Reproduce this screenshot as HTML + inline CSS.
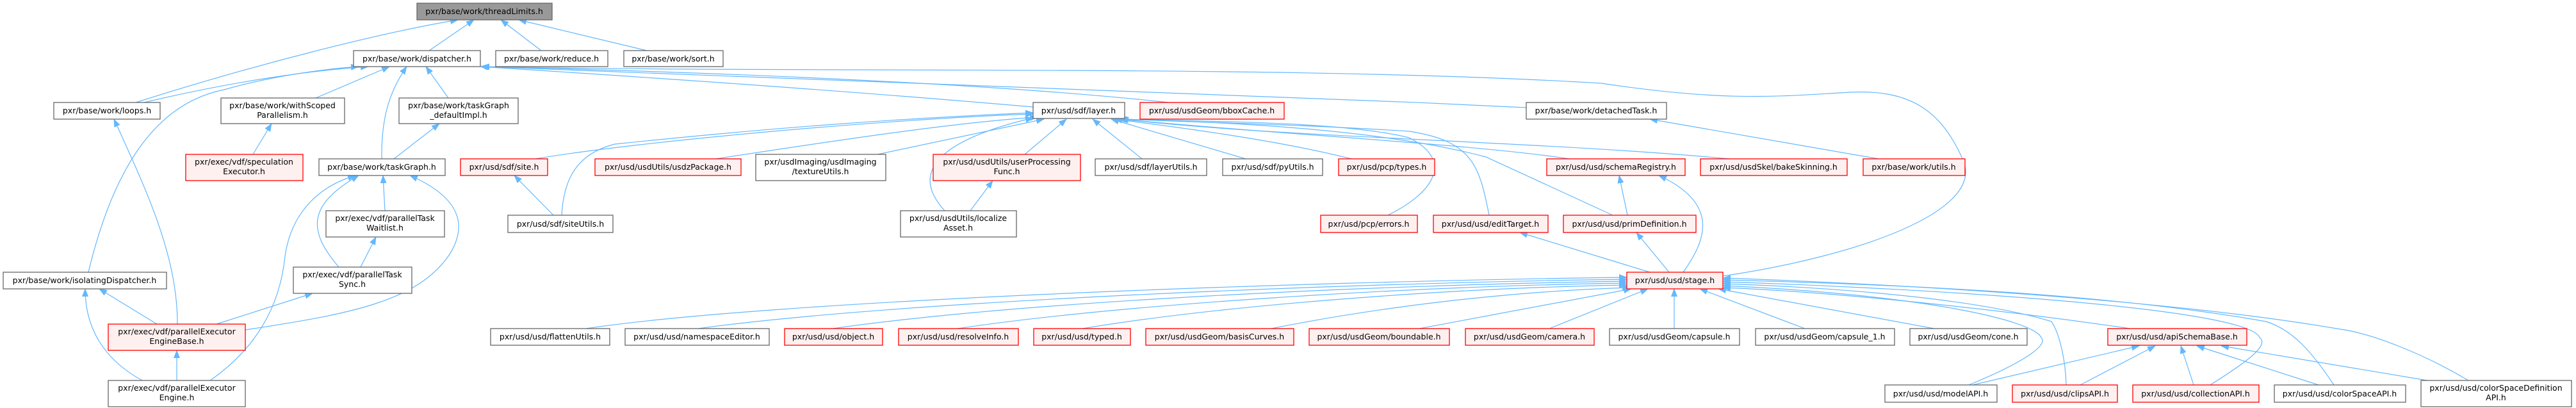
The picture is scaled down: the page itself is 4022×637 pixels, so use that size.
<!DOCTYPE html>
<html><head><meta charset="utf-8"><style>
html,body{margin:0;padding:0;background:#fff;}
svg{display:block;}
text{font-family:"DejaVu Sans","Liberation Sans",sans-serif;font-size:12.5px;fill:#000;text-anchor:middle;}
.n rect{fill:#fff;stroke:#666;stroke-width:1.3;}
.r rect{fill:#fff0f0;stroke:#f00;stroke-width:1.3;}
.g rect{fill:#999;stroke:#666;stroke-width:1.3;}
path.e{fill:none;stroke:#63b8ff;stroke-width:1.2;marker-end:url(#a);}
</style></head><body>
<svg width="4022" height="637" viewBox="0 0 4022 637" xmlns="http://www.w3.org/2000/svg">
<defs><marker id="a" markerWidth="13" markerHeight="10" refX="12" refY="5" orient="auto" markerUnits="userSpaceOnUse"><path d="M0,0 L13,5 L0,10 z" fill="#63b8ff"/></marker></defs>

<!-- edges -->
<path class="e" d="M670,79 L740,31"/>
<path class="e" d="M845,79 L782,31"/>
<path class="e" d="M1010,79 L810,31"/>
<path class="e" d="M212,160 C400,100 600,50 715,31"/>
<path class="e" d="M225,160 C350,130 480,110 575,104"/>
<path class="e" d="M138,425 C180,250 250,160 350,140 C420,120 500,108 560,104"/>
<path class="e" d="M493,153 L608,104"/>
<path class="e" d="M596,248 C595,180 610,140 635,104"/>
<path class="e" d="M700,153 L665,104"/>
<path class="e" d="M1613,167 C1300,140 1000,120 750,104"/>
<path class="e" d="M1825,160 C1500,125 1000,110 752,104"/>
<path class="e" d="M2383,168 C1800,140 1200,120 752,104"/>
<path class="e" d="M2690,431 C2900,400 3100,330 3065,250 C3030,170 2980,140 2890,144 C2780,150 2700,160 2500,130 C2000,100 1300,115 752,104"/>
<path class="e" d="M395,241 L424,193"/>
<path class="e" d="M615,248 L686,193"/>
<path class="e" d="M601,329 L598,274"/>
<path class="e" d="M529,417 C480,360 480,320 560,274"/>
<path class="e" d="M383,515 C550,490 650,470 700,400 C740,340 700,300 640,274"/>
<path class="e" d="M328,594 C420,530 440,450 445,400 C455,330 500,290 555,274"/>
<path class="e" d="M563,417 L587,370"/>
<path class="e" d="M338,506 L488,458"/>
<path class="e" d="M277,506 C277,400 230,300 178,186"/>
<path class="e" d="M245,506 L155,451"/>
<path class="e" d="M222,594 C160,560 133,510 133,451"/>
<path class="e" d="M276,594 L276,547"/>
<path class="e" d="M836,248 C1000,220 1400,185 1613,178"/>
<path class="e" d="M877,336 C880,280 900,240 960,225 C1200,200 1400,185 1613,176"/>
<path class="e" d="M864,336 L803,274"/>
<path class="e" d="M1118,248 C1300,220 1500,190 1620,183"/>
<path class="e" d="M1370,241 L1630,186"/>
<path class="e" d="M1600,241 L1665,186"/>
<path class="e" d="M1475,329 C1430,280 1440,225 1613,184"/>
<path class="e" d="M1515,329 L1550,282"/>
<path class="e" d="M1783,248 L1706,186"/>
<path class="e" d="M1945,248 L1735,186"/>
<path class="e" d="M2110,248 C2000,220 1850,200 1740,186"/>
<path class="e" d="M2167,336 C2240,300 2270,250 2200,215 C2100,190 1900,190 1745,186"/>
<path class="e" d="M2325,336 C2310,260 2300,220 2200,205 C2050,195 1850,190 1745,186"/>
<path class="e" d="M2518,336 L2320,245 C2150,200 1900,190 1748,186"/>
<path class="e" d="M2450,248 C2300,225 2000,210 1748,186"/>
<path class="e" d="M2700,248 C2400,220 2000,215 1750,186"/>
<path class="e" d="M2933,248 L2576,186"/>
<path class="e" d="M2576,425 L2373,363"/>
<path class="e" d="M2606,425 L2555,363"/>
<path class="e" d="M2628,425 C2660,380 2690,320 2590,274"/>
<path class="e" d="M2541,336 L2528,274"/>
<!-- bottom row into stage (left side) -->
<path class="e" d="M915,513 C1200,470 2000,440 2540,433"/>
<path class="e" d="M1090,513 C1400,470 2100,442 2540,436"/>
<path class="e" d="M1300,513 C1600,470 2150,445 2540,439"/>
<path class="e" d="M1495,513 C1750,475 2200,447 2540,442"/>
<path class="e" d="M1690,513 C1900,478 2250,450 2540,445"/>
<path class="e" d="M1985,513 C2150,480 2350,455 2545,449"/>
<path class="e" d="M2216,513 L2547,451"/>
<path class="e" d="M2419,513 L2573,451"/>
<path class="e" d="M2614,513 L2614,451"/>
<path class="e" d="M2818,513 L2654,451"/>
<path class="e" d="M3020,513 L2683,451"/>
<path class="e" d="M3326,513 C3100,480 2850,455 2690,449"/>
<path class="e" d="M3074,601 C3150,570 3200,540 3187,527 C3175,500 3000,460 2690,446"/>
<path class="e" d="M3226,601 C3225,560 3215,520 3203,502 C3100,470 2900,450 2690,443"/>
<path class="e" d="M3451,601 C3500,570 3545,540 3528,527 C3510,480 3000,450 2690,440"/>
<path class="e" d="M3644,601 C3610,550 3580,515 3538,502 C3300,460 3000,445 2690,437"/>
<path class="e" d="M3854,594 C3780,550 3700,520 3654,514 C3400,470 3000,445 2690,434"/>
<path class="e" d="M3080,601 L3340,540"/>
<path class="e" d="M3248,601 L3365,540"/>
<path class="e" d="M3425,601 L3405,540"/>
<path class="e" d="M3620,601 L3430,540"/>
<path class="e" d="M3790,594 L3468,540"/>

<!-- nodes -->
<g class="g"><rect x="651" y="5" width="211" height="26"/><text x="756" y="22">pxr/base/work/threadLimits.h</text></g>
<g class="n"><rect x="552" y="79" width="198" height="25"/><text x="651" y="96">pxr/base/work/dispatcher.h</text></g>
<g class="n"><rect x="774" y="79" width="175" height="25"/><text x="861" y="96">pxr/base/work/reduce.h</text></g>
<g class="n"><rect x="974" y="79" width="155" height="25"/><text x="1051" y="96">pxr/base/work/sort.h</text></g>
<g class="n"><rect x="84" y="160" width="166" height="26"/><text x="167" y="177">pxr/base/work/loops.h</text></g>
<g class="n"><rect x="345" y="153" width="193" height="40"/><text x="441" y="169">pxr/base/work/withScoped</text><text x="441" y="184">Parallelism.h</text></g>
<g class="n"><rect x="623" y="153" width="186" height="40"/><text x="716" y="169">pxr/base/work/taskGraph</text><text x="716" y="184">_defaultImpl.h</text></g>
<g class="r"><rect x="290" y="241" width="183" height="41"/><text x="381" y="257">pxr/exec/vdf/speculation</text><text x="381" y="272">Executor.h</text></g>
<g class="n"><rect x="498" y="248" width="197" height="26"/><text x="596" y="265">pxr/base/work/taskGraph.h</text></g>
<g class="r"><rect x="719" y="248" width="136" height="26"/><text x="787" y="265">pxr/usd/sdf/site.h</text></g>
<g class="r"><rect x="929" y="248" width="228" height="26"/><text x="1043" y="265">pxr/usd/usdUtils/usdzPackage.h</text></g>
<g class="n"><rect x="509" y="329" width="185" height="41"/><text x="601" y="345">pxr/exec/vdf/parallelTask</text><text x="601" y="360">Waitlist.h</text></g>
<g class="n"><rect x="793" y="336" width="164" height="27"/><text x="875" y="354">pxr/usd/sdf/siteUtils.h</text></g>
<g class="n"><rect x="458" y="417" width="185" height="41"/><text x="550" y="433">pxr/exec/vdf/parallelTask</text><text x="550" y="448">Sync.h</text></g>
<g class="n"><rect x="5" y="425" width="255" height="26"/><text x="132" y="442">pxr/base/work/isolatingDispatcher.h</text></g>
<g class="r"><rect x="169" y="506" width="214" height="41"/><text x="276" y="522">pxr/exec/vdf/parallelExecutor</text><text x="276" y="537">EngineBase.h</text></g>
<g class="n"><rect x="169" y="594" width="214" height="41"/><text x="276" y="610">pxr/exec/vdf/parallelExecutor</text><text x="276" y="625">Engine.h</text></g>
<g class="n"><rect x="1180" y="241" width="203" height="41"/><text x="1281" y="257">pxr/usdImaging/usdImaging</text><text x="1281" y="272">/textureUtils.h</text></g>
<g class="n"><rect x="1613" y="160" width="143" height="25"/><text x="1684" y="177">pxr/usd/sdf/layer.h</text></g>
<g class="r"><rect x="1780" y="160" width="225" height="26"/><text x="1892" y="177">pxr/usd/usdGeom/bboxCache.h</text></g>
<g class="r"><rect x="1457" y="241" width="230" height="41"/><text x="1572" y="257">pxr/usd/usdUtils/userProcessing</text><text x="1572" y="272">Func.h</text></g>
<g class="n"><rect x="1710" y="248" width="174" height="26"/><text x="1797" y="265">pxr/usd/sdf/layerUtils.h</text></g>
<g class="n"><rect x="1909" y="248" width="156" height="26"/><text x="1987" y="265">pxr/usd/sdf/pyUtils.h</text></g>
<g class="n"><rect x="1406" y="329" width="181" height="41"/><text x="1496" y="345">pxr/usd/usdUtils/localize</text><text x="1496" y="360">Asset.h</text></g>
<g class="r"><rect x="2090" y="248" width="150" height="26"/><text x="2165" y="265">pxr/usd/pcp/types.h</text></g>
<g class="r"><rect x="2415" y="248" width="216" height="26"/><text x="2523" y="265">pxr/usd/usd/schemaRegistry.h</text></g>
<g class="r"><rect x="2655" y="248" width="229" height="26"/><text x="2769" y="265">pxr/usd/usdSkel/bakeSkinning.h</text></g>
<g class="r"><rect x="2909" y="248" width="159" height="26"/><text x="2988" y="265">pxr/base/work/utils.h</text></g>
<g class="n"><rect x="2383" y="160" width="219" height="26"/><text x="2492" y="177">pxr/base/work/detachedTask.h</text></g>
<g class="r"><rect x="2062" y="336" width="151" height="27"/><text x="2137" y="354">pxr/usd/pcp/errors.h</text></g>
<g class="r"><rect x="2238" y="336" width="179" height="27"/><text x="2327" y="354">pxr/usd/usd/editTarget.h</text></g>
<g class="r"><rect x="2441" y="336" width="207" height="27"/><text x="2544" y="354">pxr/usd/usd/primDefinition.h</text></g>
<g class="r"><rect x="2540" y="425" width="150" height="26"/><text x="2615" y="442">pxr/usd/usd/stage.h</text></g>
<g class="n"><rect x="766" y="513" width="186" height="26"/><text x="859" y="530">pxr/usd/usd/flattenUtils.h</text></g>
<g class="n"><rect x="976" y="513" width="225" height="26"/><text x="1088" y="530">pxr/usd/usd/namespaceEditor.h</text></g>
<g class="r"><rect x="1225" y="513" width="153" height="26"/><text x="1301" y="530">pxr/usd/usd/object.h</text></g>
<g class="r"><rect x="1403" y="513" width="187" height="26"/><text x="1496" y="530">pxr/usd/usd/resolveInfo.h</text></g>
<g class="r"><rect x="1614" y="513" width="151" height="26"/><text x="1689" y="530">pxr/usd/usd/typed.h</text></g>
<g class="r"><rect x="1789" y="513" width="231" height="26"/><text x="1904" y="530">pxr/usd/usdGeom/basisCurves.h</text></g>
<g class="r"><rect x="2044" y="513" width="219" height="26"/><text x="2153" y="530">pxr/usd/usdGeom/boundable.h</text></g>
<g class="r"><rect x="2288" y="513" width="201" height="26"/><text x="2388" y="530">pxr/usd/usdGeom/camera.h</text></g>
<g class="n"><rect x="2513" y="513" width="203" height="26"/><text x="2614" y="530">pxr/usd/usdGeom/capsule.h</text></g>
<g class="n"><rect x="2741" y="513" width="217" height="26"/><text x="2849" y="530">pxr/usd/usdGeom/capsule_1.h</text></g>
<g class="n"><rect x="2982" y="513" width="183" height="26"/><text x="3073" y="530">pxr/usd/usdGeom/cone.h</text></g>
<g class="r"><rect x="3291" y="513" width="217" height="26"/><text x="3399" y="530">pxr/usd/usd/apiSchemaBase.h</text></g>
<g class="n"><rect x="2943" y="601" width="175" height="27"/><text x="3030" y="619">pxr/usd/usd/modelAPI.h</text></g>
<g class="r"><rect x="3142" y="601" width="164" height="27"/><text x="3224" y="619">pxr/usd/usd/clipsAPI.h</text></g>
<g class="r"><rect x="3330" y="601" width="197" height="27"/><text x="3428" y="619">pxr/usd/usd/collectionAPI.h</text></g>
<g class="n"><rect x="3551" y="601" width="205" height="27"/><text x="3653" y="619">pxr/usd/usd/colorSpaceAPI.h</text></g>
<g class="n"><rect x="3780" y="594" width="235" height="41"/><text x="3897" y="610">pxr/usd/usd/colorSpaceDefinition</text><text x="3897" y="625">API.h</text></g>
</svg>
</body></html>
